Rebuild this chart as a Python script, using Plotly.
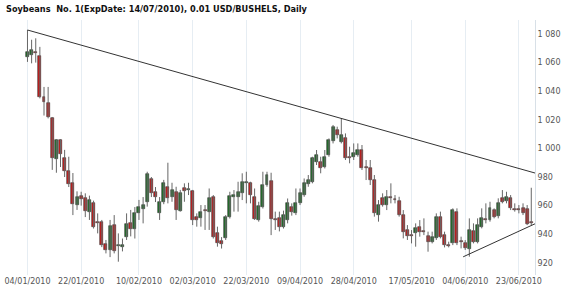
import plotly.graph_objects as go

title_text = "Soybeans\u00a0\u00a0No. 1(ExpDate: 14/07/2010), 0.01 USD/BUSHELS, Daily"

opens = [1064, 1065.3, 1067.5, 1064.6, 1036, 1032, 1021.5, 992.4, 1005.9, 993,
         984.4, 976, 960.4, 966.9, 965.3, 955.8, 962, 948.5, 948.8, 933.2,
         928.9, 946.4, 931.5, 931, 937.8, 947.6, 943.4, 955, 957.4, 962.7,
         978.4, 969.7, 954.6, 962.7, 973.2, 965.8, 969.7, 956.5, 972.1, 971,
         970.4, 952.3, 951.1, 956.5, 955.8, 965.8, 940.6, 935, 937.1, 952.3,
         965.8, 966.2, 968.6, 975.6, 975.6, 965.8, 949.9, 959.3, 974.4, 977.4,
         950.6, 951.1, 944.8, 949.9, 959.2, 955, 961.6, 967.4, 975.1, 976.7,
         990.7, 990.7, 987.2, 995.4, 1005.4, 1012.9, 1004.7, 1007, 993.2, 993.7,
         995.4, 998.9, 986.7, 986.5, 977.9, 953.4, 965.1, 960.4, 966, 964.6,
         963.5, 953.4, 942.9, 938.9, 941.1, 945.3, 942, 938.7, 934.8, 937.1,
         951.8, 939.4, 931.9, 933.6, 955.8, 935, 933.6, 929.4, 942.5, 934.8,
         945.3, 950.1, 949.9, 956.9, 952.7, 965.1, 963.5, 965.1, 957.1, 957.3,
         958.1, 957.4, 947.8]
highs = [1082.8, 1076, 1077, 1071, 1043, 1043, 1022, 1006.5, 1006.5, 999,
         994.2, 982.8, 970, 969.7, 968.6, 967, 963.5, 954.6, 950, 936,
         950, 953.4, 940.6, 937, 954.6, 957, 959, 964, 966, 983.7,
         980, 973, 966, 978, 990, 976, 973.2, 971, 975.6, 976,
         971, 954.6, 960.4, 960.4, 972, 967.4, 945.3, 938, 953.4, 969.7,
         970.9, 976.7, 982.6, 983.7, 976.7, 972, 962.7, 983.7, 983.7, 983,
         955.8, 955.8, 956.5, 965, 961.6, 972, 972, 979, 981.4, 994.2,
         998.9, 994.2, 998.9, 1007, 1016.4, 1015.2, 1021, 1010.5, 1001.2, 1003.5,
         1003.5, 1002.4, 991.9, 991.9, 981.4, 963.9, 968.6, 970.9, 975.6, 967.4,
         966.2, 956.9, 946.4, 942.9, 947.6, 949.9, 951.1, 941.8, 941.8, 954.6,
         955.8, 941.8, 934.8, 958.1, 958.1, 938.3, 935.9, 951.1, 947.6, 951.1,
         958.1, 961.6, 962.7, 958.1, 965.1, 970.9, 969.7, 967.4, 961.6, 960.4,
         961.6, 960.4, 972.5]
lows = [1060.5, 1059.5, 1060, 1035, 1023, 1021, 985, 983, 987, 980,
        973, 953.4, 957, 960, 952, 950, 944, 940.6, 931, 926.6,
        924, 926.6, 920.8, 928, 936, 938.5, 937, 950, 947.6, 959.3,
        966, 962.5, 950, 961, 961.6, 962.7, 950, 955.8, 962.7, 967.4,
        946.4, 945.3, 945.3, 943, 943, 937, 931.3, 930, 936, 951,
        955.8, 955.8, 963.9, 961.6, 961.6, 950, 948.8, 958, 973.2, 939.4,
        943, 942, 944, 947.6, 953, 953.4, 960.4, 966.2, 973.2, 975.6,
        988.4, 982.6, 986, 994.2, 1003.5, 1007, 1003.5, 991.9, 989.6, 991.9,
        994.2, 984.9, 977.9, 974.4, 952.3, 948.8, 959.3, 956.9, 961.6, 961.6,
        952.3, 937.1, 936, 933.6, 931.3, 938.3, 939.4, 927.8, 933.6, 936,
        937.1, 930.8, 930.8, 932.4, 932.4, 930.1, 929, 924.3, 933.6, 933.6,
        944.1, 947.6, 948.8, 951.1, 951.1, 961.6, 961.6, 956.9, 955.8, 954.6,
        953.4, 946.4, 946.4]
closes = [1067.5, 1068.8, 1067, 1036.2, 1032.7, 1022.2, 993, 1005.9, 995.9, 984.4,
          975.1, 961.1, 965.8, 964.6, 956.5, 963.9, 945.3, 948, 932.4, 928.9,
          945.7, 928.5, 932, 932.5, 947.1, 943.4, 954.6, 958.8, 960.4, 982.1,
          968.6, 965.8, 962.5, 975.6, 965, 970.9, 956.9, 968.6, 970.4, 971.6,
          949.9, 949.9, 955.8, 956, 965.1, 938.3, 933.6, 933, 952.3, 966.7,
          967.4, 969.7, 976.7, 975.9, 967.4, 950.4, 959.7, 974.4, 981.4, 950.4,
          950.2, 944.8, 953.4, 961.6, 955.7, 961.6, 968.6, 975.6, 977.9, 993,
          995.4, 986.1, 994.2, 1005.9, 1015.2, 1009.4, 1009.4, 993, 993, 996.5,
          998.9, 986.1, 986.3, 977.9, 954.6, 960.4, 960.4, 966.2, 965.6, 964.2,
          953.4, 941.8, 938.7, 938.5, 944.1, 941.8, 941.6, 934.8, 938.3, 951.8,
          938.3, 932.5, 931.7, 956.9, 933.6, 934.8, 930.1, 943, 934.8, 946.4,
          951.1, 949.9, 958.1, 952.3, 961.6, 962.7, 965.8, 958.1, 956.9, 956.9,
          954.6, 947.2, 947.6]

tick_positions = [0, 13, 27, 40, 53, 66, 79, 93, 106, 119]
tick_labels = ["04/01/2010", "22/01/2010", "10/02/2010", "02/03/2010", "22/03/2010",
               "09/04/2010", "28/04/2010", "17/05/2010", "04/06/2010", "23/06/2010"]
y_ticks = [920, 940, 960, 980, 1000, 1020, 1040, 1060, 1080]
y_tick_labels = ["920", "940", "960", "980", "1 000", "1 020", "1 040", "1 060", "1 080"]

upper_trend_x = [0, 122.9]
upper_trend_y = [1082.8, 982.8]
lower_trend_x = [105.5, 122.9]
lower_trend_y = [924.2, 947.3]

UP = "#22702a"
DOWN = "#c81e1e"

n = len(opens)
xs = list(range(n))
base = [min(o, c) for o, c in zip(opens, closes)]
height = [max(abs(c - o), 0.7) for o, c in zip(opens, closes)]
colors = [UP if c > o else DOWN for o, c in zip(opens, closes)]

wx, wy = [], []
for i in xs:
    wx += [i, i, None]
    wy += [lows[i], highs[i], None]

fig = go.Figure()
fig.add_trace(go.Scatter(x=wx, y=wy, mode="lines", line=dict(color="#666666", width=1),
                         hoverinfo="skip", showlegend=False))
fig.add_trace(go.Bar(x=xs, y=height, base=base, width=0.72,
                     marker=dict(color=colors, line=dict(color="#333333", width=0.6)),
                     showlegend=False))
fig.add_trace(go.Scatter(x=upper_trend_x, y=upper_trend_y, mode="lines",
                         line=dict(color="#333333", width=1), showlegend=False))
fig.add_trace(go.Scatter(x=lower_trend_x, y=lower_trend_y, mode="lines",
                         line=dict(color="#333333", width=1), showlegend=False))

fig.update_layout(
    width=570, height=293,
    margin=dict(l=25, r=35, t=20, b=18),
    paper_bgcolor="white", plot_bgcolor="white",
    font=dict(family="DejaVu Sans, Verdana, sans-serif", size=8, color="#444444"),
    title=dict(text="<b>" + title_text + "</b>", x=6 / 570, xanchor="left",
               y=1 - 9 / 293, yanchor="middle", xref="container", yref="container",
               font=dict(size=8.2, color="#111111", family="DejaVu Sans, Verdana, sans-serif")),
    bargap=0,
)
fig.update_xaxes(range=[-0.6, 122.9], tickmode="array", tickvals=tick_positions,
                 ticktext=tick_labels, showgrid=True, gridcolor="#e6edf3", gridwidth=1,
                 zeroline=False, showline=False, ticks="", automargin=False,
                 tickfont=dict(size=8, color="#555555"))
fig.update_yaxes(range=[911.5, 1089.8], side="right", tickmode="array", tickvals=y_ticks,
                 ticktext=y_tick_labels, showgrid=False, zeroline=False, automargin=False,
                 showline=True, linecolor="#d8e0e7", linewidth=1, ticks="",
                 tickfont=dict(size=8, color="#555555"))

fig.write_html("out.html")
